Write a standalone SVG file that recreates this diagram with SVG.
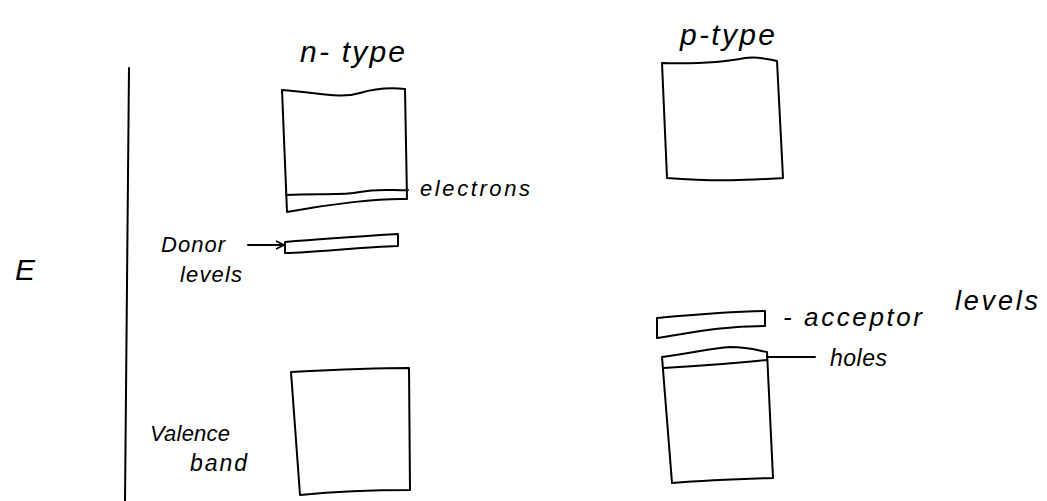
<svg xmlns="http://www.w3.org/2000/svg" width="1047" height="501" viewBox="0 0 1047 501">
<style>
.s{fill:none;stroke:#000;stroke-width:2;stroke-linecap:round;stroke-linejoin:round}
.t{font-family:"Liberation Sans",Arial,sans-serif;fill:#000;font-style:italic}
</style>
<defs>
<marker id="ah" markerWidth="10" markerHeight="10" refX="9" refY="5" orient="auto" markerUnits="userSpaceOnUse">
<path d="M1,1 L9,5 L1,9" fill="none" stroke="#000" stroke-width="1.6"/>
</marker>
</defs>
<rect width="1047" height="501" fill="#fff"/>
<g id="axis">
<path class="s" d="M129,68 C128,200 126,350 125,501"/>
<text class="t" x="15" y="280" font-size="30">E</text>
</g>
<g id="n-conduction">
<text class="t" x="300" y="62" font-size="30" textLength="105" lengthAdjust="spacing">n- type</text>
<path class="s" d="M282,90 C320,93 340,99 360,93 C380,87 395,88 405,89 L407,199 C380,198 330,204 287,212 L282,90 Z"/>
<path class="s" d="M286,195 C320,193 340,196 360,192 C380,188 395,191 408,190"/>
<text class="t" x="420" y="196" font-size="22" textLength="110" lengthAdjust="spacing">electrons</text>
</g>
<g id="n-donor">
<path class="s" d="M285,242 C320,239 350,237 398,234 L398,246 C360,247 320,252 285,253 Z"/>
<text class="t" x="161" y="252" font-size="22" textLength="64" lengthAdjust="spacing">Donor</text>
<text class="t" x="180" y="282" font-size="22" textLength="62" lengthAdjust="spacing">levels</text>
</g>
<g id="n-valence">
<path class="s" d="M291,372 C330,370 370,368 409,368 L410,490 C370,490 330,492 300,495 L291,372 Z"/>
<text class="t" x="150" y="441" font-size="22" textLength="80" lengthAdjust="spacing">Valence</text>
<text class="t" x="190" y="471" font-size="23" textLength="57" lengthAdjust="spacing">band</text>
</g>
<g id="p-conduction">
<text class="t" x="680" y="45" font-size="30" textLength="95" lengthAdjust="spacing">p-type</text>
<path class="s" d="M662,63 C700,64 725,62 745,58 C760,56 770,60 777,61 L783,178 C750,180 720,182 667,178 Z"/>
</g>
<g id="p-acceptor">
<path class="s" d="M657,318 C690,315 720,312 765,311 L765,326 C720,326 690,333 657,338 Z"/>
<text class="t" x="783" y="326" font-size="26" textLength="139" lengthAdjust="spacing">- acceptor</text>
<text class="t" x="955" y="310" font-size="27" textLength="83" lengthAdjust="spacing">levels</text>
</g>
<g id="p-valence">
<path class="s" d="M662,357 C690,354 710,348 730,347 C750,347 760,351 767,352 L773,478 C740,479 710,480 672,483 L662,357 Z"/>
<path class="s" d="M663,368 C700,366 730,364 767,360"/>
<text class="t" x="830" y="366" font-size="23" textLength="57" lengthAdjust="spacing">holes</text>
</g>
<g id="connectors">
<path class="s" d="M248,245 L284,245" marker-end="url(#ah)"/>
<path class="s" d="M767,357 L815,357"/>
</g>
</svg>
